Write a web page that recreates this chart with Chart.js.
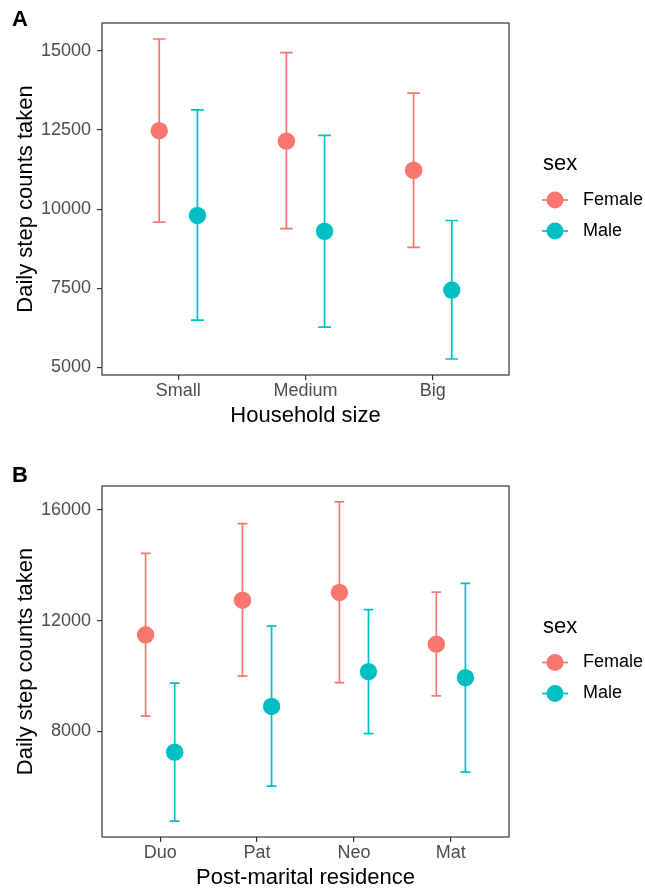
<!DOCTYPE html>
<html>
<head>
<meta charset="utf-8">
<script src="https://cdn.jsdelivr.net/npm/chart.js@4.4.1/dist/chart.umd.min.js"></script>
<style>
  body { margin: 0; background: #fff; width: 645px; height: 889px; overflow: hidden; position: relative; }
  canvas { position: absolute; left: 0; }
</style>
</head>
<body>
<canvas id="chartA" width="645" height="427" style="top:0px"></canvas>
<canvas id="chartB" width="645" height="452" style="top:437px"></canvas>
<script>
// ---- data -------------------------------------------------------------
const sexes = ['Female', 'Male'];
const sexColors = ['#F8766D', '#00BFC4'];

// panel A : household size
const householdSizes = ['Small', 'Medium', 'Big'];
const femaleHouseholdMean = [12480, 12150, 11230];
const femaleHouseholdLow  = [9590, 9380, 8790];
const femaleHouseholdHigh = [15380, 14950, 13670];
const maleHouseholdMean   = [9800, 9300, 7440];
const maleHouseholdLow    = [6490, 6270, 5260];
const maleHouseholdHigh   = [13140, 12330, 9640];
const householdTicks = [5000, 7500, 10000, 12500, 15000];

// panel B : post-marital residence
const residences = ['Duo', 'Pat', 'Neo', 'Mat'];
const femaleResidenceMean = [11490, 12740, 13020, 11150];
const femaleResidenceLow  = [8550, 10000, 9760, 9280];
const femaleResidenceHigh = [14430, 15510, 16290, 13030];
const maleResidenceMean   = [7250, 8900, 10160, 9940];
const maleResidenceLow    = [4760, 6020, 7920, 6530];
const maleResidenceHigh   = [9740, 11800, 12400, 13350];
const residenceTicks = [8000, 12000, 16000];

// ---- drawing ----------------------------------------------------------
const FONT = '"Liberation Sans", Arial, sans-serif';
Chart.defaults.font.family = FONT;
Chart.defaults.animation = false;

const dodge = 0.15;     // half distance between female / male
const capHalf = 0.05;   // half width of the error bar caps (category units)

// whiskers, drawn under the points
const errorBars = {
  id: 'errorBars',
  beforeDatasetsDraw(chart) {
    const { ctx, scales: { x, y } } = chart;
    chart.data.datasets.forEach(ds => {
      ctx.save();
      ctx.strokeStyle = ds.backgroundColor;
      ctx.lineWidth = 1.7;
      ds.data.forEach((pt, i) => {
        const px = x.getPixelForValue(pt.x);
        const cl = x.getPixelForValue(pt.x - capHalf);
        const cr = x.getPixelForValue(pt.x + capHalf);
        const yl = y.getPixelForValue(ds.errLow[i]);
        const yh = y.getPixelForValue(ds.errHigh[i]);
        ctx.beginPath();
        ctx.moveTo(px, yh); ctx.lineTo(px, yl);
        ctx.moveTo(cl, yh); ctx.lineTo(cr, yh);
        ctx.moveTo(cl, yl); ctx.lineTo(cr, yl);
        ctx.stroke();
      });
      ctx.restore();
    });
  }
};

// panel border, letter and the "sex" legend
const decorations = {
  id: 'decorations',
  afterDraw(chart, args, opts) {
    const { ctx, chartArea: a } = chart;
    ctx.save();
    ctx.strokeStyle = '#333333';
    ctx.lineWidth = 1.2;
    ctx.strokeRect(a.left, a.top, a.right - a.left, a.bottom - a.top);

    ctx.fillStyle = '#000';
    ctx.textBaseline = 'middle';
    ctx.textAlign = 'left';
    ctx.font = 'bold 22px ' + FONT;
    ctx.fillText(opts.letter, 12, opts.letterY);

    const mid = (a.top + a.bottom) / 2;
    ctx.font = '22px ' + FONT;
    ctx.fillText('sex', a.right + 34, mid - 35);
    ctx.font = '18px ' + FONT;
    sexes.forEach((s, i) => {
      const ky = mid + 1 + i * 31;
      const kx = a.right + 46;
      ctx.strokeStyle = sexColors[i];
      ctx.lineWidth = 1.7;
      ctx.beginPath();
      ctx.moveTo(kx - 13, ky); ctx.lineTo(kx + 13, ky);
      ctx.stroke();
      ctx.fillStyle = sexColors[i];
      ctx.beginPath();
      ctx.arc(kx, ky, 8.5, 0, Math.PI * 2);
      ctx.fill();
      ctx.fillStyle = '#000';
      ctx.fillText(s, a.right + 74, ky);
    });
    ctx.restore();
  }
};

function makePanel(id, labels, tickValues, female, male, xTitle, letter, letterY, topPad) {
  const all = [...female.low, ...female.high, ...male.low, ...male.high];
  const lo = Math.min(...all), hi = Math.max(...all);
  const pad = (hi - lo) * 0.05;

  const series = [female, male].map((s, k) => ({
    label: sexes[k],
    data: s.mean.map((m, i) => ({ x: i + 1 + (k === 0 ? -dodge : dodge), y: m })),
    errLow: s.low,
    errHigh: s.high,
    backgroundColor: sexColors[k],
    borderWidth: 0,
    pointRadius: 8.7,
    pointHoverRadius: 8.7
  }));

  return new Chart(document.getElementById(id), {
    type: 'scatter',
    data: { datasets: series },
    options: {
      responsive: false,
      layout: { padding: { top: topPad, right: 136, bottom: 0, left: 0 } },
      scales: {
        x: {
          type: 'linear',
          min: 0.4,
          max: labels.length + 0.6,
          afterBuildTicks: s => { s.ticks = labels.map((_, i) => ({ value: i + 1 })); },
          afterFit: s => { s.height = 52; },
          ticks: {
            callback: v => labels[v - 1],
            color: '#4d4d4d',
            font: { size: 18 },
            padding: 0,
            maxRotation: 0,
            autoSkip: false
          },
          grid: { drawOnChartArea: false, color: '#333333', tickLength: 5, lineWidth: 1.2 },
          border: { display: false },
          title: { display: true, text: xTitle, color: '#000', font: { size: 22, lineHeight: 1 }, padding: 0 }
        },
        y: {
          min: lo - pad,
          max: hi + pad,
          afterBuildTicks: s => { s.ticks = tickValues.map(v => ({ value: v })); },
          afterFit: s => { s.width = 102; },
          ticks: { callback: v => String(v), color: '#4d4d4d', font: { size: 18 }, padding: 6 },
          grid: { drawOnChartArea: false, color: '#333333', tickLength: 5, lineWidth: 1.2 },
          border: { display: false },
          title: {
            display: true, text: 'Daily step counts taken', color: '#000',
            font: { size: 22, lineHeight: 1 }, padding: { top: 15, bottom: 0 }
          }
        }
      },
      plugins: {
        legend: { display: false },
        tooltip: { enabled: false },
        decorations: { letter: letter, letterY: letterY }
      }
    },
    plugins: [errorBars, decorations]
  });
}

makePanel('chartA', householdSizes, householdTicks,
  { mean: femaleHouseholdMean, low: femaleHouseholdLow, high: femaleHouseholdHigh },
  { mean: maleHouseholdMean, low: maleHouseholdLow, high: maleHouseholdHigh },
  'Household size', 'A', 20, 23);

makePanel('chartB', residences, residenceTicks,
  { mean: femaleResidenceMean, low: femaleResidenceLow, high: femaleResidenceHigh },
  { mean: maleResidenceMean, low: maleResidenceLow, high: maleResidenceHigh },
  'Post-marital residence', 'B', 39, 49);
</script>
</body>
</html>
